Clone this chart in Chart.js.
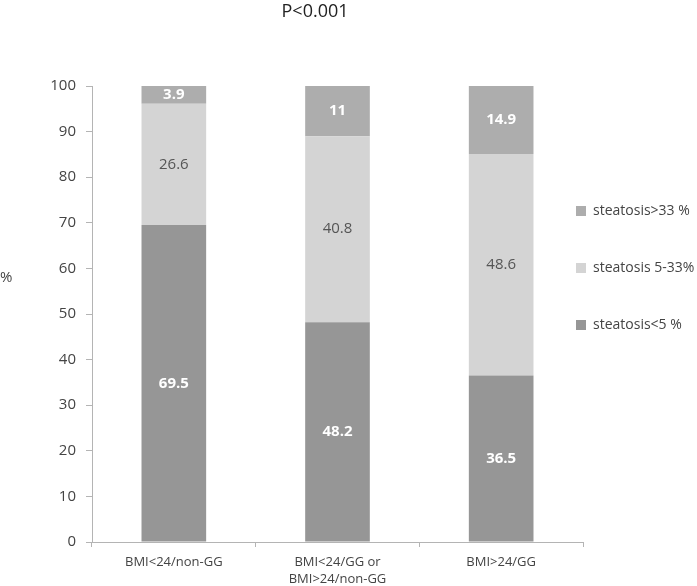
<!DOCTYPE html>
<html>
<head>
<meta charset="utf-8">
<script src="https://cdn.jsdelivr.net/npm/chart.js@4/dist/chart.umd.min.js"></script>
<style>
  html, body { margin: 0; padding: 0; background: #ffffff; }
  #wrap { width: 697px; height: 586px; position: relative; }
</style>
</head>
<body>
<div id="wrap"><canvas id="c" width="697" height="586"></canvas></div>
<script>
const categories = [["BMI<24/non-GG"], ["BMI<24/GG or", "BMI>24/non-GG"], ["BMI>24/GG"]];
const seriesNames = ["steatosis<5 %", "steatosis 5-33%", "steatosis>33 %"];
const low = [69.5, 48.2, 36.5];
const mid = [26.6, 40.8, 48.6];
const high = [3.9, 11, 14.9];
const yTicks = [0, 10, 20, 30, 40, 50, 60, 70, 80, 90, 100];
const titleText = "P<0.001";
const yTitle = "%";

const FONT = "'Open Sans', 'DejaVu Sans', sans-serif";

const labelStyles = [
  { color: "#ffffff", weight: "bold" },
  { color: "#555555", weight: "normal" },
  { color: "#ffffff", weight: "bold" }
];

const valueLabels = {
  id: "valueLabels",
  afterDatasetsDraw(chart) {
    const ctx = chart.ctx;
    chart.data.datasets.forEach((ds, i) => {
      const meta = chart.getDatasetMeta(i);
      meta.data.forEach((bar, j) => {
        const p = bar.getProps(["x", "y", "base"], true);
        const st = labelStyles[i];
        ctx.save();
        ctx.font = st.weight + " 15px " + FONT;
        ctx.fillStyle = st.color;
        ctx.textAlign = "center";
        ctx.textBaseline = "middle";
        ctx.fillText(String(ds.data[j]), p.x, (p.y + p.base) / 2);
        ctx.restore();
      });
    });
  }
};

const extraText = {
  id: "extraText",
  afterLayout(chart) {
    const lg = chart.legend;
    const ca = chart.chartArea;
    const pad = chart.options.plugins.legend.labels.padding;
    lg.left = ca.right - 7 - pad;
    lg.right = chart.width;
    lg.width = lg.right - lg.left;
    const h = lg.height;
    lg.top = ca.top + 118 - pad;
    lg.bottom = lg.top + h;
  },
  afterDraw(chart) {
    const ctx = chart.ctx;
    const ca = chart.chartArea;
    ctx.save();
    ctx.fillStyle = "#222222";
    ctx.font = "18px " + FONT;
    ctx.textAlign = "center";
    ctx.textBaseline = "middle";
    ctx.fillText(titleText, chart.width * 0.452, 12);
    ctx.fillStyle = "#444444";
    ctx.font = "15px " + FONT;
    ctx.textAlign = "left";
    ctx.fillText(yTitle, 0, ca.top + (ca.bottom - ca.top) * 0.42);
    ctx.restore();
  }
};

new Chart(document.getElementById("c"), {
  type: "bar",
  data: {
    labels: categories,
    datasets: [
      { label: seriesNames[0], data: low, backgroundColor: "#969696" },
      { label: seriesNames[1], data: mid, backgroundColor: "#d4d4d4" },
      { label: seriesNames[2], data: high, backgroundColor: "#adadad" }
    ]
  },
  options: {
    responsive: false,
    animation: false,
    devicePixelRatio: 1,
    layout: { padding: { top: 86, left: 0, right: 0, bottom: 0 } },
    datasets: { bar: { barPercentage: 0.395, categoryPercentage: 1.0 } },
    scales: {
      x: {
        stacked: true,
        grid: { display: true, drawOnChartArea: false, tickLength: 5, color: "#b4b4b4", offset: true },
        border: { display: true, color: "#b4b4b4" },
        ticks: { color: "#444444", font: { family: FONT, size: 13, lineHeight: 1.3 }, padding: 7, maxRotation: 0 },
        afterFit(s) { s.height = 44; }
      },
      y: {
        stacked: true,
        min: 0,
        max: 100,
        afterBuildTicks(s) { s.ticks = yTicks.map(v => ({ value: v })); },
        grid: { display: true, drawOnChartArea: false, tickLength: 6, color: "#b4b4b4" },
        border: { display: true, color: "#b4b4b4" },
        ticks: { color: "#444444", font: { family: FONT, size: 15 }, padding: 10 },
        afterFit(s) { s.width = 92; }
      }
    },
    plugins: {
      legend: {
        display: true,
        position: "right",
        align: "start",
        reverse: true,
        maxWidth: 114,
        labels: {
          boxWidth: 10,
          boxHeight: 10,
          padding: 43,
          color: "#444444",
          font: { family: FONT, size: 14 }
        }
      },
      title: { display: false },
      tooltip: { enabled: false }
    }
  },
  plugins: [valueLabels, extraText]
});
</script>
</body>
</html>
